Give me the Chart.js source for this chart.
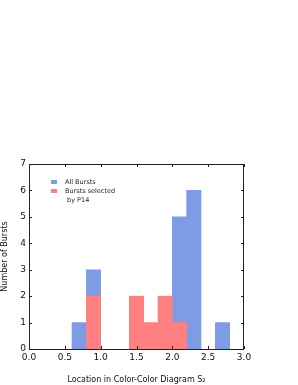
<!DOCTYPE html>
<html>
<head>
<meta charset="utf-8">
<script src="https://cdn.jsdelivr.net/npm/chart.js@4"></script>
<style>
  html, body { margin: 0; padding: 0; background: #fff; }
  #wrap { width: 298px; height: 385px; }
</style>
</head>
<body>
<div id="wrap"><canvas id="burstChart" width="298" height="385"></canvas></div>
<script>
// bins of width 0.2 from 0.0 to 3.0 (centres)
const binCentres = [0.1, 0.3, 0.5, 0.7, 0.9, 1.1, 1.3, 1.5, 1.7, 1.9, 2.1, 2.3, 2.5, 2.7, 2.9];
const allBursts = [0, 0, 0, 1, 3, 0, 0, 0, 0, 0, 5, 6, 0, 1, 0];
const selectedP14 = [0, 0, 0, 0, 2, 0, 0, 2, 1, 2, 1, 0, 0, 0, 0];
const xTicks = [0.0, 0.5, 1.0, 1.5, 2.0, 2.5, 3.0];
const yTicks = [0, 1, 2, 3, 4, 5, 6, 7];

const blue = 'rgb(127, 155, 230)';
const red = 'rgb(255, 128, 128)';
const tickFont = { family: 'DejaVu Sans', size: 9 };
const titleFont = { family: 'DejaVu Sans', size: 8 };

// empty bins draw nothing
const noZero = arr => arr.map(v => (v === 0 ? null : v));

// frame, inward ticks on all four sides, and the legend
const framePlugin = {
    id: 'frame',
    afterDraw(chart) {
        const ctx = chart.ctx;
        const a = chart.chartArea;
        const xs = chart.scales.xv;
        const ys = chart.scales.y;
        ctx.save();
        ctx.strokeStyle = '#222';
        ctx.lineWidth = 1;
        ctx.strokeRect(Math.round(a.left) + 0.5, Math.round(a.top) + 0.5,
            Math.round(a.right - a.left) - 1, Math.round(a.bottom - a.top));
        ctx.beginPath();
        xTicks.forEach(v => {
            const px = Math.round(xs.getPixelForValue(v)) + 0.5;
            ctx.moveTo(px, a.bottom); ctx.lineTo(px, a.bottom - 3);
            ctx.moveTo(px, a.top); ctx.lineTo(px, a.top + 3);
        });
        yTicks.forEach(v => {
            const py = Math.round(ys.getPixelForValue(v)) + 0.5;
            ctx.moveTo(a.left, py); ctx.lineTo(a.left + 3, py);
            ctx.moveTo(a.right, py); ctx.lineTo(a.right - 3, py);
        });
        ctx.stroke();

        // legend
        const lx = a.left + 22, ly = a.top + 18;
        ctx.font = '6.5px "DejaVu Sans"';
        ctx.textBaseline = 'middle';
        ctx.fillStyle = blue;
        ctx.fillRect(lx, ly - 2, 6, 4);
        ctx.fillStyle = red;
        ctx.fillRect(lx, ly + 7, 6, 4);
        ctx.fillStyle = '#222';
        ctx.fillText(chart.data.datasets[1].label, lx + 14, ly);
        ctx.fillText('Bursts selected', lx + 14, ly + 9);
        ctx.fillText(' by P14', lx + 14, ly + 18);
        ctx.restore();
    }
};

const data = {
    labels: binCentres,
    datasets: [
        {
            label: 'Bursts selected by P14',
            data: noZero(selectedP14),
            backgroundColor: red,
            borderWidth: 0,
            order: 0
        },
        {
            label: 'All Bursts',
            data: noZero(allBursts),
            backgroundColor: blue,
            borderWidth: 0,
            order: 1
        }
    ]
};

const config = {
    type: 'bar',
    data: data,
    options: {
        responsive: false,
        animation: false,
        layout: { padding: { left: 0, right: 54, top: 164, bottom: 0 } },
        datasets: { bar: { categoryPercentage: 1.0, barPercentage: 1.0 } },
        plugins: {
            legend: { display: false },
            tooltip: { enabled: false }
        },
        scales: {
            x: {
                display: false,
                stacked: true,
                offset: true
            },
            xv: {
                type: 'linear',
                position: 'bottom',
                offset: false,
                min: 0,
                max: 3,
                grid: { display: false, drawTicks: false, offset: false },
                border: { display: false },
                ticks: {
                    stepSize: 0.5,
                    padding: 3,
                    color: '#111',
                    font: tickFont,
                    callback: v => v.toFixed(1)
                },
                title: {
                    display: true,
                    text: 'Location in Color-Color Diagram S\u2082',
                    color: '#111',
                    font: titleFont,
                    padding: { top: 6, bottom: 0 }
                },
                afterFit: s => { s.height = 36; }
            },
            y: {
                stacked: false,
                min: 0,
                max: 7,
                grid: { display: false, drawTicks: false },
                border: { display: false },
                ticks: {
                    stepSize: 1,
                    padding: 3,
                    color: '#111',
                    font: tickFont
                },
                title: {
                    display: true,
                    text: 'Number of Bursts',
                    color: '#111',
                    font: titleFont,
                    padding: { top: 0, bottom: 2 }
                },
                afterFit: s => { s.width = 29; }
            }
        }
    },
    plugins: [framePlugin]
};

const ctx = document.getElementById('burstChart').getContext('2d');
new Chart(ctx, config);
</script>
</body>
</html>
